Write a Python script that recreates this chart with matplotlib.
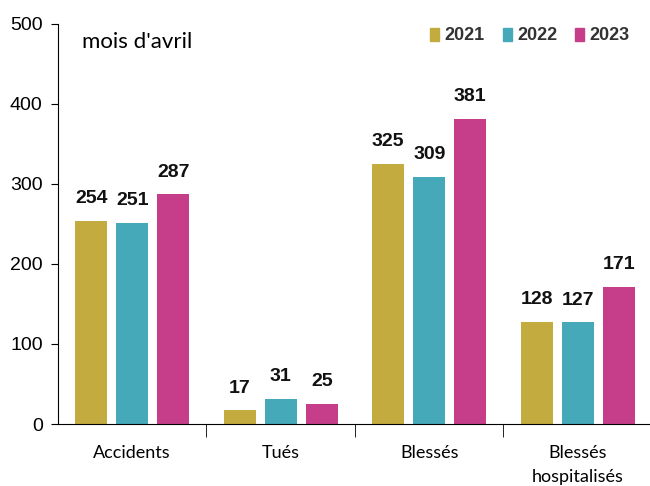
import matplotlib

matplotlib.use("Agg")
import matplotlib.pyplot as plt
import numpy as np
from matplotlib.patches import Patch

categories = ["Accidents", "Tués", "Blessés", "Blessés\nhospitalisés"]
years = ["2021", "2022", "2023"]
values_2021 = [254, 17, 325, 128]
values_2022 = [251, 31, 309, 127]
values_2023 = [287, 25, 381, 171]
colors = ["#C4AB3F", "#45A9BA", "#C63E8A"]

series = [values_2021, values_2022, values_2023]

fig = plt.figure(figsize=(6.5, 4.86), dpi=100)
ax = fig.add_axes([58 / 650, 62 / 486, 594 / 650, 400 / 486])

x = np.arange(len(categories))
step = 0.276
w = 0.215
num_font = ["Liberation Sans Narrow", "Liberation Sans", "DejaVu Sans"]
for k, (vals, col) in enumerate(zip(series, colors)):
    pos = x + (k - 1) * step
    ax.bar(pos, vals, width=w, color=col, label=years[k])
    for px, v in zip(pos, vals):
        ax.annotate(str(v), (px, v), xytext=(0, 10), textcoords="offset points",
                    ha="center", va="bottom", fontsize=14, fontweight="bold",
                    family=num_font, color="#111111")

ax.set_xlim(-0.5, 3.5)
ax.set_ylim(0, 500)
ax.set_yticks([0, 100, 200, 300, 400, 500])
ax.tick_params(axis="y", direction="out", length=5, labelsize=14, pad=6)
for lab in ax.get_yticklabels():
    lab.set_family(["Liberation Sans", "DejaVu Sans"])

ax.set_xticks(x)
ax.set_xticklabels(categories, fontsize=13, family=["Lato", "DejaVu Sans"],
                   linespacing=1.6)
ax.tick_params(axis="x", length=0, pad=15)
ax.set_xticks([0.5, 1.5, 2.5], minor=True)
ax.tick_params(axis="x", which="minor", length=9, direction="out")

for s in ["top", "right"]:
    ax.spines[s].set_visible(False)

ax.text(0.04, 0.955, "mois d'avril", transform=ax.transAxes, fontsize=16,
        family=["Lato", "DejaVu Sans"], va="center", ha="left")

handles = [Patch(color=c) for c in colors]
leg = ax.legend(handles, years, loc="center right", bbox_to_anchor=(572 / 594, 0.97),
                ncol=3, frameon=False, handlelength=0.5, handleheight=0.75,
                handletextpad=0.3, columnspacing=1.0, borderpad=0, borderaxespad=0,
                prop={"family": num_font, "weight": "bold", "size": 13})
for t in leg.get_texts():
    t.set_color("#333333")

fig.savefig("out.png", dpi=100)
